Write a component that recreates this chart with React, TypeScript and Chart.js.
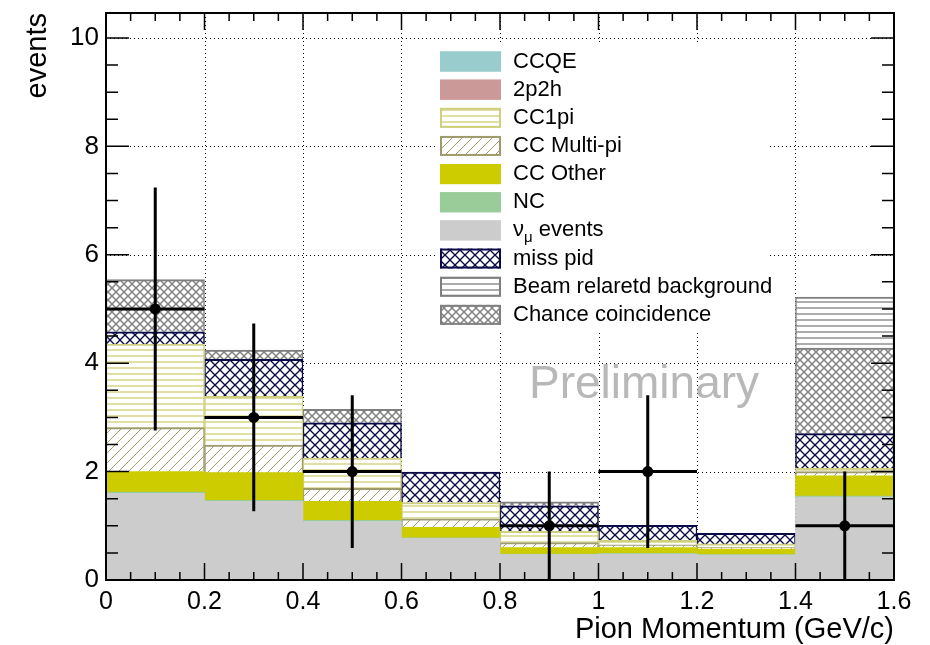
import React, { useEffect, useRef } from "react";
import { Chart, registerables } from "chart.js";

Chart.register(...registerables);

// ---------------- data ----------------
const binCenters = [0.1, 0.3, 0.5, 0.7, 0.9, 1.1, 1.3, 1.5];
const binHalfWidth = 0.1;

const numuEvents = [1.6, 1.45, 1.08, 0.77, 0.47, 0.48, 0.46, 1.53];
const ncEvents = [0.02, 0.02, 0.02, 0.01, 0.01, 0.01, 0.01, 0.02];
const ccOther = [0.38, 0.51, 0.35, 0.19, 0.12, 0.11, 0.1, 0.37];
const ccMultiPi = [0.81, 0.51, 0.24, 0.16, 0.09, 0.05, 0.03, 0.08];
const cc1pi = [1.54, 0.9, 0.56, 0.3, 0.21, 0.08, 0.065, 0.06];
const twoP2h = [0, 0, 0, 0, 0, 0, 0, 0];
const ccqe = [0, 0, 0, 0, 0, 0, 0, 0];
const missPid = [0.23, 0.68, 0.65, 0.56, 0.47, 0.28, 0.195, 0.64];
const chanceCoincidence = [0.96, 0.17, 0.25, 0, 0.07, 0, 0, 1.58];
const beamRelated = [0, 0, 0, 0, 0, 0, 0, 0.94];

const dataCounts = [5, 3, 2, 0, 1, 2, 0, 1];
const dataErrors = [2.24, 1.73, 1.41, 0, 1.0, 1.41, 0, 1.0];

const xTickValues = [0, 0.2, 0.4, 0.6, 0.8, 1, 1.2, 1.4, 1.6];
const yTickValues = [0, 2, 4, 6, 8, 10];

const legendOrder = [
  "CCQE",
  "2p2h",
  "CC1pi",
  "CC Multi-pi",
  "CC Other",
  "NC",
  "νμ events",
  "miss pid",
  "Beam relaretd background",
  "Chance coincidence",
];

const xTitle = "Pion Momentum (GeV/c)";
const yTitle = "events";
const watermark = "Preliminary";

const FONT = "'Liberation Sans', Arial, Helvetica, sans-serif";

// ---------------- patterns ----------------
function makeCanvas(w: number, h: number) {
  const c = document.createElement("canvas");
  c.width = w;
  c.height = h;
  const g = c.getContext("2d")!;
  g.fillStyle = "#ffffff";
  g.fillRect(0, 0, w, h);
  return { c, g };
}

function hLinePattern(ctx: CanvasRenderingContext2D, period: number, lw: number, color: string) {
  const { c, g } = makeCanvas(8, period);
  g.fillStyle = color;
  g.fillRect(0, 1, 8, lw);
  return ctx.createPattern(c, "repeat")!;
}

function diagPattern(
  ctx: CanvasRenderingContext2D,
  size: number,
  lw: number,
  color: string,
  fwd: boolean,
  back: boolean
) {
  const { c, g } = makeCanvas(size, size);
  g.strokeStyle = color;
  g.lineWidth = lw;
  for (const k of [-size, 0, size]) {
    if (fwd) {
      g.beginPath();
      g.moveTo(k, size);
      g.lineTo(k + size, 0);
      g.stroke();
    }
    if (back) {
      g.beginPath();
      g.moveTo(k, 0);
      g.lineTo(k + size, size);
      g.stroke();
    }
  }
  return ctx.createPattern(c, "repeat")!;
}

function toBars(values: number[]) {
  return binCenters.map((x, i) => ({ x, y: values[i] > 0 ? values[i] : null }));
}

// ---------------- plugin ----------------
const rootStylePlugin = {
  id: "rootStyle",
  beforeDatasetsDraw(chart: any) {
    const { ctx, chartArea: a, scales } = chart;
    const x = scales.x;
    const y = scales.y;
    ctx.save();
    ctx.strokeStyle = "#000";
    ctx.lineWidth = 1;
    ctx.setLineDash([1, 3]);
    for (const v of xTickValues) {
      const px = Math.round(x.getPixelForValue(v)) + 0.5;
      if (px <= a.left + 1 || px >= a.right - 1) continue;
      ctx.beginPath();
      ctx.moveTo(px, a.top);
      ctx.lineTo(px, a.bottom);
      ctx.stroke();
    }
    for (const v of yTickValues) {
      const py = Math.round(y.getPixelForValue(v)) + 0.5;
      if (py <= a.top + 1 || py >= a.bottom - 1) continue;
      ctx.beginPath();
      ctx.moveTo(a.left, py);
      ctx.lineTo(a.right, py);
      ctx.stroke();
    }
    ctx.restore();
  },
  afterDatasetsDraw(chart: any) {
    const { ctx, chartArea: a, scales } = chart;
    const x = scales.x;
    const y = scales.y;
    ctx.save();

    // frame
    ctx.strokeStyle = "#000";
    ctx.lineWidth = 2;
    ctx.strokeRect(a.left, a.top, a.right - a.left, a.bottom - a.top);

    // x ticks (inward, bottom & top)
    ctx.lineWidth = 1.5;
    for (let i = 0; i <= 32; i++) {
      const v = i * 0.05;
      const px = x.getPixelForValue(v);
      const len = i % 4 === 0 ? 17 : 8;
      ctx.beginPath();
      ctx.moveTo(px, a.bottom);
      ctx.lineTo(px, a.bottom - len);
      ctx.moveTo(px, a.top);
      ctx.lineTo(px, a.top + len);
      ctx.stroke();
    }
    // y ticks (inward, left & right)
    for (let i = 0; i <= 20; i++) {
      const v = i * 0.5;
      const py = y.getPixelForValue(v);
      const len = i % 4 === 0 ? 23 : 12;
      ctx.beginPath();
      ctx.moveTo(a.left, py);
      ctx.lineTo(a.left + len, py);
      ctx.moveTo(a.right, py);
      ctx.lineTo(a.right - len, py);
      ctx.stroke();
    }

    // data points with error bars
    ctx.strokeStyle = "#000";
    ctx.fillStyle = "#000";
    ctx.lineWidth = 3;
    binCenters.forEach((c, i) => {
      const n = dataCounts[i];
      if (!(n > 0)) return;
      const px = x.getPixelForValue(c);
      const py = y.getPixelForValue(n);
      const lo = y.getPixelForValue(Math.max(0, n - dataErrors[i]));
      const hi = y.getPixelForValue(n + dataErrors[i]);
      const l = x.getPixelForValue(c - binHalfWidth);
      const r = x.getPixelForValue(c + binHalfWidth);
      ctx.beginPath();
      ctx.moveTo(px, lo);
      ctx.lineTo(px, hi);
      ctx.moveTo(l, py);
      ctx.lineTo(r, py);
      ctx.stroke();
      ctx.beginPath();
      ctx.arc(px, py, 5.5, 0, Math.PI * 2);
      ctx.fill();
    });

    // legend
    const lx = 435;
    const ly = 44;
    ctx.fillStyle = "#fff";
    ctx.fillRect(lx, ly, 335, 287);
    const rowH = 28.15;
    const first = 61.5;
    legendOrder.forEach((label, i) => {
      const ds = chart.data.datasets.find((d: any) => d.label === label);
      if (!ds) return;
      const cy = first + i * rowH;
      const bx = 440;
      const bw = 61;
      const bh = 20;
      ctx.fillStyle = ds.backgroundColor;
      ctx.fillRect(bx, cy - bh / 2, bw, bh);
      ctx.strokeStyle = ds.legendBorder || ds.backgroundColor;
      ctx.lineWidth = 2;
      ctx.strokeRect(bx + 1, cy - bh / 2 + 1, bw - 2, bh - 2);
      ctx.fillStyle = "#000";
      ctx.textBaseline = "middle";
      ctx.textAlign = "left";
      ctx.font = `22px ${FONT}`;
      if (label.startsWith("νμ")) {
        let tx = 513;
        ctx.fillText("ν", tx, cy);
        tx += ctx.measureText("ν").width;
        ctx.font = `15px ${FONT}`;
        ctx.fillText("μ", tx, cy + 7);
        tx += ctx.measureText("μ").width;
        ctx.font = `22px ${FONT}`;
        ctx.fillText(label.slice(2), tx, cy);
      } else {
        ctx.fillText(label, 513, cy);
      }
    });

    // watermark
    ctx.fillStyle = "#b8b8b8";
    ctx.font = `46px ${FONT}`;
    ctx.textBaseline = "alphabetic";
    ctx.textAlign = "left";
    ctx.fillText(watermark, 529, 398);

    ctx.restore();
  },
};

export default function App() {
  const ref = useRef<HTMLCanvasElement | null>(null);

  useEffect(() => {
    const canvas = ref.current!;
    const ctx = canvas.getContext("2d")!;

    const cc1piPat = hLinePattern(ctx, 6, 2, "#e0e0a4");
    const multiPat = diagPattern(ctx, 10, 1, "#a39c6c", true, false);
    const missPat = diagPattern(ctx, 10, 1.3, "#0a0a48", true, true);
    const chancePat = diagPattern(ctx, 8, 1.5, "#828282", true, true);
    const beamPat = hLinePattern(ctx, 6, 2, "#acacac");

    const mk = (
      label: string,
      values: number[],
      bg: any,
      border: string | null,
      bw: number
    ) => ({
      label,
      data: toBars(values),
      backgroundColor: bg,
      borderColor: border || "rgba(0,0,0,0)",
      borderWidth: border ? { top: bw, left: bw * 0.75, right: bw * 0.75, bottom: 0 } : 0,
      borderSkipped: "start",
      legendBorder: border || bg,
      barPercentage: 1,
      categoryPercentage: 1,
    });

    const datasets: any[] = [
      mk("νμ events", numuEvents, "#cccccc", null, 0),
      mk("NC", ncEvents, "#99cc99", null, 0),
      mk("CC Other", ccOther, "#cccc00", null, 0),
      mk("CC Multi-pi", ccMultiPi, multiPat, "#9d9a6c", 2),
      mk("CC1pi", cc1pi, cc1piPat, "#cfcf80", 2),
      mk("2p2h", twoP2h, "#cc9999", null, 0),
      mk("CCQE", ccqe, "#99cccc", null, 0),
      mk("miss pid", missPid, missPat, "#0a0a48", 2),
      mk("Chance coincidence", chanceCoincidence, chancePat, "#7f7f7f", 2),
      mk("Beam relaretd background", beamRelated, beamPat, "#7f7f7f", 2),
    ];

    const fmt = (v: number) => {
      const r = Math.round(v * 10) / 10;
      return String(r);
    };

    const chart = new Chart(canvas, {
      type: "bar",
      data: { datasets },
      options: {
        animation: false,
        responsive: false,
        maintainAspectRatio: false,
        layout: { padding: { top: 13, right: 36, left: 0, bottom: 0 } },
        plugins: {
          legend: { display: false },
          tooltip: { enabled: false },
        },
        scales: {
          x: {
            type: "linear",
            min: 0,
            max: 1.6,
            stacked: true,
            offset: false,
            grid: { display: false, drawTicks: false, offset: false },
            border: { display: false },
            afterBuildTicks: (s: any) => {
              s.ticks = xTickValues.map((v) => ({ value: v }));
            },
            ticks: {
              padding: 7,
              color: "#000",
              font: { size: 25, family: FONT },
              maxRotation: 0,
              autoSkip: false,
              callback: (v: any) => fmt(Number(v)),
            },
            title: {
              display: true,
              text: xTitle,
              align: "end",
              color: "#000",
              font: { size: 29, family: FONT },
              padding: { top: 0, bottom: -2 },
            },
            afterFit: (s: any) => {
              s.height = 65;
              s.paddingLeft = 0;
              s.paddingRight = 0;
            },
          } as any,
          y: {
            type: "linear",
            min: 0,
            max: 10.46,
            stacked: true,
            grid: { display: false, drawTicks: false },
            border: { display: false },
            afterBuildTicks: (s: any) => {
              s.ticks = yTickValues.map((v) => ({ value: v }));
            },
            ticks: {
              padding: 7,
              color: "#000",
              font: { size: 26, family: FONT },
              callback: (v: any) => String(v),
            },
            title: {
              display: true,
              text: yTitle,
              align: "end",
              color: "#000",
              font: { size: 29, family: FONT },
              padding: { top: 21, bottom: 0 },
            },
            afterFit: (s: any) => {
              s.width = 106;
              s.paddingTop = 0;
              s.paddingBottom = 0;
            },
          } as any,
        },
      } as any,
      plugins: [rootStylePlugin as any],
    });

    return () => chart.destroy();
  }, []);

  return (
    <div
      style={{
        position: "fixed",
        left: 0,
        top: 0,
        width: 930,
        height: 645,
        background: "#fff",
      }}
    >
      <canvas ref={ref} width={930} height={645} style={{ display: "block" }} />
    </div>
  );
}
